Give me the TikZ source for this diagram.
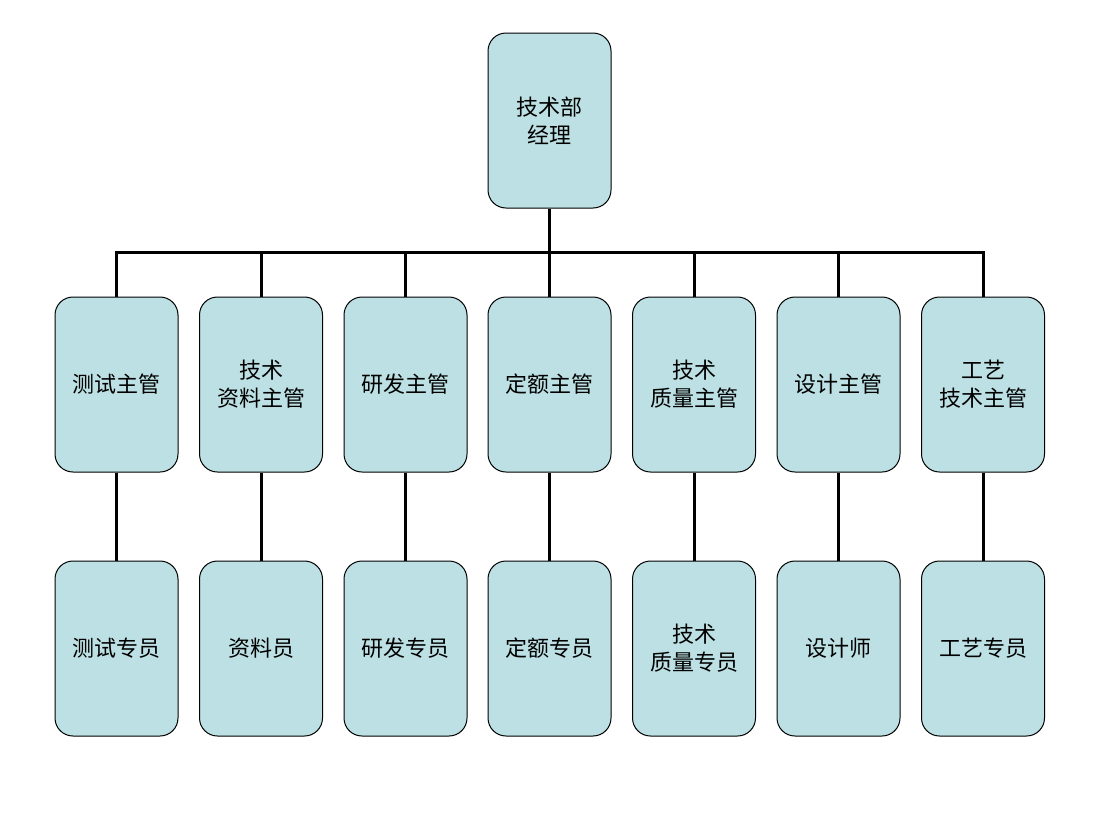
\documentclass[tikz,border=0pt]{standalone}
\usepackage{fontspec}
\setmainfont{Noto Sans CJK SC}
\begin{document}
\begin{tikzpicture}[x=1pt,y=-1pt,
  box/.style={draw,line width=1pt,fill={rgb,255:red,188;green,224;blue,227},rounded corners=18pt,minimum width=123pt,minimum height=175pt,align=center,font=\fontsize{22}{28}\selectfont,inner sep=0pt},
  con/.style={line width=3pt}]
\useasboundingbox (0,0) rectangle (1100,825);
\node[box] (top) at (549.5,120.5) {技术部\\经理};
\foreach \i/\x/\a/\b in {1/116.5/测试主管/测试专员,2/261/技术\\资料主管/资料员,3/405.5/研发主管/研发专员,4/549.5/定额主管/定额专员,5/694/技术\\质量主管/技术\\质量专员,6/838.5/设计主管/设计师,7/983/工艺\\技术主管/工艺专员}{
  \node[box] (m\i) at (\x,384.5) {\a};
  \node[box] (s\i) at (\x,648.5) {\b};
  \draw[con] (m\i.south) -- (s\i.north);
  \draw[con] (m\i.north) -- (m\i.north |- 0,252) coordinate (h\i);
}
\draw[con] (top.south) -- (top.south |- 0,252);
\draw[con,line cap=rect] (h1) -- (h7);
\end{tikzpicture}
\end{document}
